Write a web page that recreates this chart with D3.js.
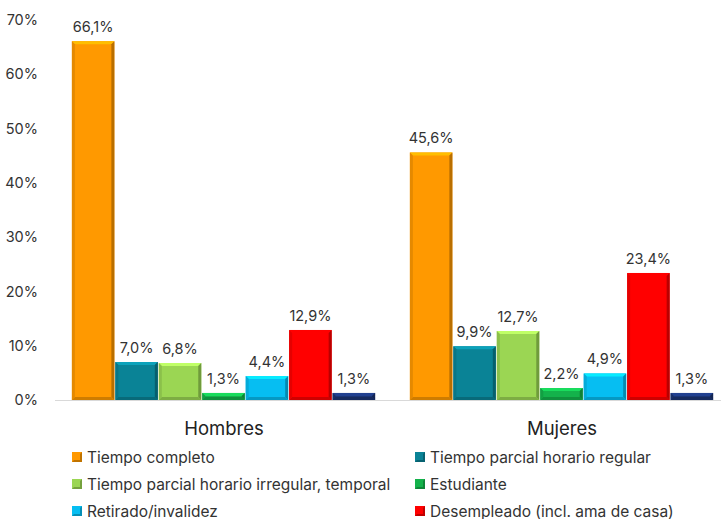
<!DOCTYPE html>
<html><head><meta charset="utf-8">
<script src="https://cdn.jsdelivr.net/npm/d3@7"></script>
<style>body{margin:0;background:#fff}svg{display:block;font-family:Inter,"Noto Sans",sans-serif}</style>
</head><body><svg id="c" width="721" height="519"></svg>
<script>
const categories = ["Hombres", "Mujeres"];
const seriesNames = ["Tiempo completo","Tiempo parcial horario regular","Tiempo parcial horario irregular, temporal","Estudiante","Retirado/invalidez","Desempleado (incl. ama de casa)"];
const hombres = [66.1, 7.0, 6.8, 1.3, 4.4, 12.9, 1.3];
const mujeres = [45.6, 9.9, 12.7, 2.2, 4.9, 23.4, 1.3];
const yTicks = [0, 10, 20, 30, 40, 50, 60, 70];
const colors = ["#FF9900","#0A8396","#9BD653","#14B24B","#06BEF2","#FF0000","#1B3474"];

const values = [hombres, mujeres];
const svg = d3.select("#c");
const x0 = d3.scaleBand().domain(categories).range([55, 731]).paddingInner(0.1).paddingOuter(0.05);
const x1 = d3.scaleBand().domain(d3.range(hombres.length)).range([0, x0.bandwidth()]);
const y = d3.scaleLinear().domain([0, 70]).range([400, 20]);
const loc = d3.formatLocale({decimal: ",", thousands: ".", grouping: [3], currency: ["", ""]});
const fmt = v => loc.format(".1f")(v) + "%";

// y axis labels
const yAxis = d3.axisLeft(y).tickValues(yTicks).tickFormat(d => d + "%").tickSize(0).tickPadding(0);
const ga = svg.append("g").attr("transform", "translate(38,0)").call(yAxis);
ga.select(".domain").remove();
ga.selectAll("text").attr("font-size", 14.5).attr("fill", "#333").attr("font-family", "Inter,sans-serif");

// baseline
svg.append("line").attr("x1", 55).attr("x2", 721).attr("y1", y(0) + 0.5).attr("y2", y(0) + 0.5).attr("stroke", "#d9d9d9");

function shade(c, k) { return k > 0 ? d3.color(c).brighter(k) : d3.color(c).darker(-k); }

categories.forEach((cat, ci) => {
  const g = svg.append("g");
  values[ci].forEach((v, si) => {
    const bx = x0(cat) + x1(si), bw = x1.bandwidth() - 1, by = y(v), bh = y(0) - y(v);
    const c = colors[si];
    const e = Math.min(3, bh / 2);
    g.append("rect").attr("x", bx).attr("y", by).attr("width", bw).attr("height", bh).attr("fill", c);
    g.append("path").attr("d", `M${bx},${by}H${bx+bw}L${bx+bw-e},${by+e}H${bx+e}Z`).attr("fill", shade(c, 0.6));
    g.append("path").attr("d", `M${bx+bw},${by}V${by+bh}L${bx+bw-e},${by+bh-e}V${by+e}Z`).attr("fill", shade(c, -0.9));
    g.append("path").attr("d", `M${bx},${by+bh}H${bx+bw}L${bx+bw-e},${by+bh-e}H${bx+e}Z`).attr("fill", shade(c, -0.6));
    g.append("path").attr("d", `M${bx},${by}V${by+bh}L${bx+e},${by+bh-e}V${by+e}Z`).attr("fill", shade(c, -0.3));
    g.append("text").attr("x", bx + bw / 2).attr("y", by - 9).attr("text-anchor", "middle")
      .attr("font-size", 14.5).attr("fill", "#333").text(fmt(v));
  });
  svg.append("text").attr("x", x0(cat) + x0.bandwidth() / 2).attr("y", 435).attr("text-anchor", "middle")
    .attr("font-size", 18.5).attr("fill", "#222").text(cat);
});

// legend
const legX = [72, 415], legY0 = 457, legDy = 27;
seriesNames.forEach((n, i) => {
  const lx = legX[i % 2], ly = legY0 + Math.floor(i / 2) * legDy;
  const c = colors[i];
  svg.append("rect").attr("x", lx).attr("y", ly - 5).attr("width", 10).attr("height", 10).attr("fill", c);
  svg.append("path").attr("d", `M${lx+10},${ly-5}V${ly+5}H${lx}L${lx+2},${ly+3}H${lx+8}V${ly-3}Z`).attr("fill", shade(c, -0.8));
  svg.append("text").attr("x", lx + 15).attr("y", ly + 5.5).attr("font-size", 15.5).attr("fill", "#333").text(n);
});
</script></body></html>
